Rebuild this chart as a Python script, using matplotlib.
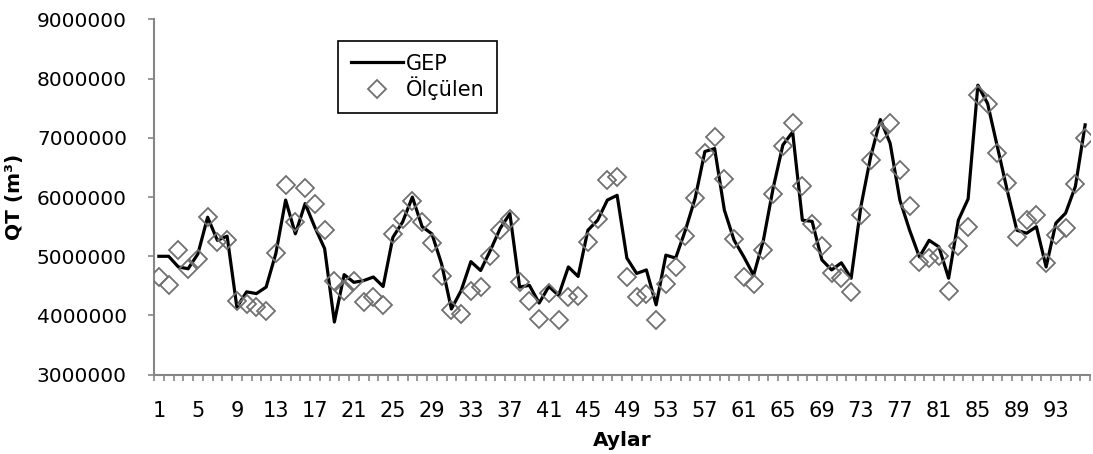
import numpy as np
import matplotlib.pyplot as plt
from matplotlib.ticker import FixedLocator

# Aylar (months) 1..96
aylar = list(range(1, 97))

# GEP model output
gep = [5.00, 5.00, 4.82, 4.79, 5.04, 5.66, 5.27, 5.34, 4.14, 4.40,
       4.37, 4.48, 5.05, 5.95, 5.38, 5.89, 5.49, 5.13, 3.89, 4.69,
       4.56, 4.59, 4.65, 4.49, 5.32, 5.58, 6.00, 5.50, 5.38, 4.87,
       4.11, 4.42, 4.91, 4.76, 5.10, 5.47, 5.72, 4.48, 4.51, 4.21,
       4.49, 4.34, 4.82, 4.66, 5.44, 5.61, 5.95, 6.03, 4.97, 4.71,
       4.77, 4.18, 5.02, 4.97, 5.44, 5.98, 6.77, 6.82, 5.78, 5.27,
       4.99, 4.68, 5.27, 6.15, 6.88, 7.10, 5.61, 5.59, 4.94, 4.77,
       4.89, 4.63, 5.84, 6.68, 7.31, 6.91, 5.95, 5.44, 4.99, 5.27,
       5.16, 4.63, 5.61, 5.97, 7.89, 7.58, 6.85, 6.12, 5.44, 5.39,
       5.50, 4.82, 5.56, 5.73, 6.18, 7.22]

# measured values (Ölçülen)
olculen = [4.65, 4.52, 5.11, 4.78, 4.96, 5.66, 5.24, 5.28, 4.25, 4.19,
           4.14, 4.07, 5.06, 6.20, 5.58, 6.16, 5.88, 5.44, 4.58, 4.42,
           4.58, 4.23, 4.32, 4.18, 5.38, 5.63, 5.94, 5.58, 5.22, 4.66,
           4.09, 4.02, 4.42, 4.48, 5.00, 5.44, 5.63, 4.56, 4.25, 3.94,
           4.38, 3.93, 4.31, 4.33, 5.24, 5.63, 6.29, 6.34, 4.65, 4.31,
           4.37, 3.92, 4.54, 4.82, 5.34, 5.98, 6.74, 7.01, 6.30, 5.30,
           4.65, 4.53, 5.11, 6.05, 6.86, 7.26, 6.18, 5.54, 5.18, 4.72,
           4.63, 4.40, 5.70, 6.63, 7.08, 7.26, 6.45, 5.85, 4.91, 4.97,
           5.00, 4.41, 5.18, 5.50, 7.72, 7.57, 6.75, 6.23, 5.33, 5.61,
           5.70, 4.88, 5.36, 5.47, 6.22, 6.99]

gep = np.array(gep) * 1e6
olculen = np.array(olculen) * 1e6

plt.rcParams['font.family'] = ['DejaVu Sans']
axis_gray = '#868686'

fig = plt.figure(figsize=(10.93, 4.54), dpi=100)
ax = fig.add_axes([154 / 1093, 1 - 374.7 / 454, (1090 - 154) / 1093, (374.7 - 19.5) / 454])

ax.plot(aylar, gep, color='black', lw=2.3, label='GEP', zorder=3)
ax.plot(aylar, olculen, ls='none', marker='D', ms=9, mfc='none',
        mec='#707070', mew=1.3, label='Ölçülen', zorder=4)

ax.set_xlim(0.5, 96.5)
ax.set_ylim(3000000, 9000000)
ax.set_yticks(np.arange(3000000, 9000001, 1000000))
ax.set_yticklabels([str(v) for v in range(3000000, 9000001, 1000000)])
ax.set_xticks(aylar[::4])
ax.set_xticklabels([str(v) for v in aylar[::4]])
ax.xaxis.set_minor_locator(FixedLocator(np.arange(0.5, 97, 1)))

for s in ['top', 'right']:
    ax.spines[s].set_visible(False)
for s in ['left', 'bottom']:
    ax.spines[s].set_color(axis_gray)
    ax.spines[s].set_linewidth(1.5)

ax.tick_params(axis='y', which='major', direction='out', length=4.5, width=1.2,
               color=axis_gray, labelsize=14.5, pad=15)
ax.tick_params(axis='x', which='major', length=0, labelsize=15, pad=19)
ax.tick_params(axis='x', which='minor', direction='out', length=4.5, width=1.2,
               color=axis_gray)

ax.set_xlabel('Aylar', fontsize=14.5, fontweight='bold', labelpad=7)
ax.set_ylabel('QT (m³)', fontsize=14.5, fontweight='bold', labelpad=9)

leg = ax.legend(loc='upper left', bbox_to_anchor=(338 / 1093, 1 - 41 / 454),
                bbox_transform=fig.transFigure, fontsize=15, frameon=True,
                fancybox=False, edgecolor='black', framealpha=1,
                borderpad=0.6, borderaxespad=0, handlelength=2.5,
                handletextpad=0.15, labelspacing=0.15)
leg.get_frame().set_linewidth(1.2)

fig.savefig('out.png', dpi=100)
